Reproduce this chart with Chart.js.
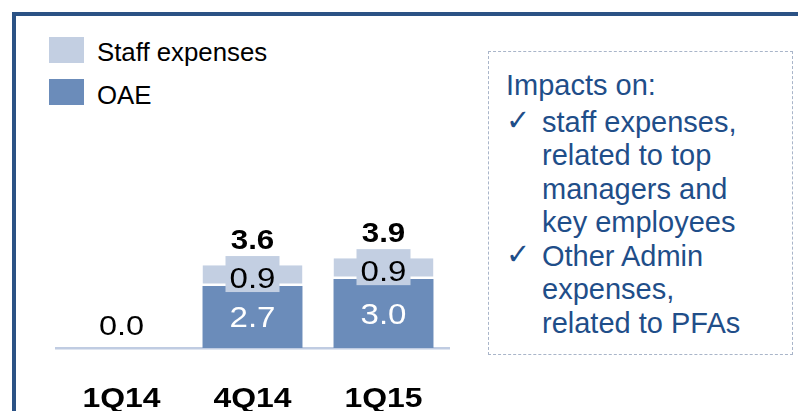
<!DOCTYPE html>
<html>
<head>
<meta charset="utf-8">
<script src="https://cdn.jsdelivr.net/npm/chart.js@4.4.1/dist/chart.umd.min.js"></script>
<style>
  html, body { margin: 0; padding: 0; background: #fff; }
  body { width: 798px; height: 411px; position: relative; overflow: hidden;
         font-family: "Liberation Sans", Arial, sans-serif; }
  #moldura { position: absolute; left: 12px; top: 12px; width: 820px; height: 420px; box-sizing: border-box;
             border-top: 4px solid #2b5285; border-left: 4px solid #2b5285; }
  #grafico { position: absolute; left: 0; top: 0; }
  .leg-cx { position: absolute; left: 49px; width: 35px; height: 26px; }
  .leg-tx { position: absolute; left: 97px; font-size: 25.8px; line-height: 25px; color: #000; white-space: nowrap; }
  #caixa { position: absolute; left: 488px; top: 51px; width: 305px; height: 304px; box-sizing: border-box;
           border: 1px dashed #a9b5c9; }
  #caixa-txt { position: absolute; left: 506px; top: 69px; color: #1f4e89; font-size: 29px;
               line-height: 33.5px; white-space: nowrap; }
  #caixa-txt .tit { margin-bottom: 3px; }
  #caixa-txt .item { display: flex; align-items: baseline; }
  #caixa-txt .ck { width: 36px; flex: none; font-family: "DejaVu Sans", sans-serif; font-size: 29px;
                   line-height: 33.5px; position: relative; top: -2px; }
</style>
</head>
<body>
<div id="moldura"></div>

<div class="leg-cx" style="top:37px;background:#c3cfe2"></div>
<div class="leg-tx" style="top:40px">Staff expenses</div>
<div class="leg-cx" style="top:79px;background:#6b8cba"></div>
<div class="leg-tx" style="top:82.5px">OAE</div>

<div id="caixa"></div>
<div id="caixa-txt">
  <div class="tit">Impacts on:</div>
  <div class="item"><span class="ck">✓</span><div>staff expenses,<br>related to top<br>managers and<br>key employees</div></div>
  <div class="item"><span class="ck">✓</span><div>Other Admin<br>expenses,<br>related to PFAs</div></div>
</div>

<canvas id="grafico" width="798" height="411"></canvas>

<script>
// valores (EUR mn)
const categorias = ["1Q14", "4Q14", "1Q15"];
const valoresOAE = [0, 2.7, 3.0];
const valoresStaff = [0, 0.9, 0.9];

const COR_OAE = "#6b8cba";
const COR_STAFF = "#c3cfe2";
const ESTICA = 1.14; // o texto do slide original está esticado na horizontal

function texto(ctx, s, x, yCentro, tam, cor, negrito) {
  ctx.save();
  ctx.font = (negrito ? "bold " : "") + tam + 'px "Liberation Sans", Arial, sans-serif';
  ctx.fillStyle = cor;
  ctx.textAlign = "center";
  ctx.textBaseline = "alphabetic";
  ctx.translate(x, yCentro + 0.358 * tam);
  ctx.scale(ESTICA, 1);
  ctx.fillText(s, 0, 0);
  ctx.restore();
}

const rotulos = {
  id: "rotulos",
  afterDatasetsDraw(chart) {
    const ctx = chart.ctx;
    const oae = chart.getDatasetMeta(0).data;
    const staff = chart.getDatasetMeta(1).data;
    const eixoX = chart.scales.x;
    categorias.forEach((cat, i) => {
      const bo = oae[i], bs = staff[i];
      const total = valoresOAE[i] + valoresStaff[i];
      if (total === 0) {
        texto(ctx, total.toFixed(1), bo.x, bo.base - 23, 28.5, "#000", false);
      } else {
        texto(ctx, valoresOAE[i].toFixed(1), bo.x, (bo.y + bo.base) / 2, 29, "#fff", false);
        const meioS = (bs.y + bs.base) / 2;
        ctx.fillStyle = COR_STAFF;
        ctx.fillRect(bs.x - 27, meioS - 1.5 - 18, 54, 36);
        texto(ctx, valoresStaff[i].toFixed(1), bs.x, meioS + 2, 29, "#000", false);
        texto(ctx, total.toFixed(1), bs.x, bs.y - 26, 27.5, "#000", true);
      }
      texto(ctx, cat, eixoX.getPixelForValue(i), eixoX.top + 49, 28, "#000", true);
    });
  }
};

new Chart(document.getElementById("grafico"), {
  type: "bar",
  data: {
    labels: categorias,
    datasets: [
      { label: "OAE", data: valoresOAE, backgroundColor: COR_OAE, borderWidth: 0 },
      { label: "Staff expenses", data: valoresStaff, backgroundColor: COR_STAFF,
        borderColor: "#fff", borderWidth: { bottom: 2.5, top: 0, left: 0, right: 0 }, borderSkipped: false },
    ],
  },
  options: {
    responsive: false,
    animation: false,
    devicePixelRatio: 1,
    layout: { padding: { left: 56, right: 349, top: 210, bottom: 0 } },
    datasets: { bar: { barPercentage: 0.763, categoryPercentage: 1 } },
    plugins: { legend: { display: false }, tooltip: { enabled: false } },
    scales: {
      x: {
        stacked: true,
        grid: { display: false, drawTicks: false },
        ticks: { display: false },
        border: { display: true, color: "#c0cce2", width: 2.5 },
        afterFit: s => { s.height = 63; },
      },
      y: { stacked: true, display: false, min: 0, max: 6 },
    },
  },
  plugins: [rotulos],
});
</script>
</body>
</html>
